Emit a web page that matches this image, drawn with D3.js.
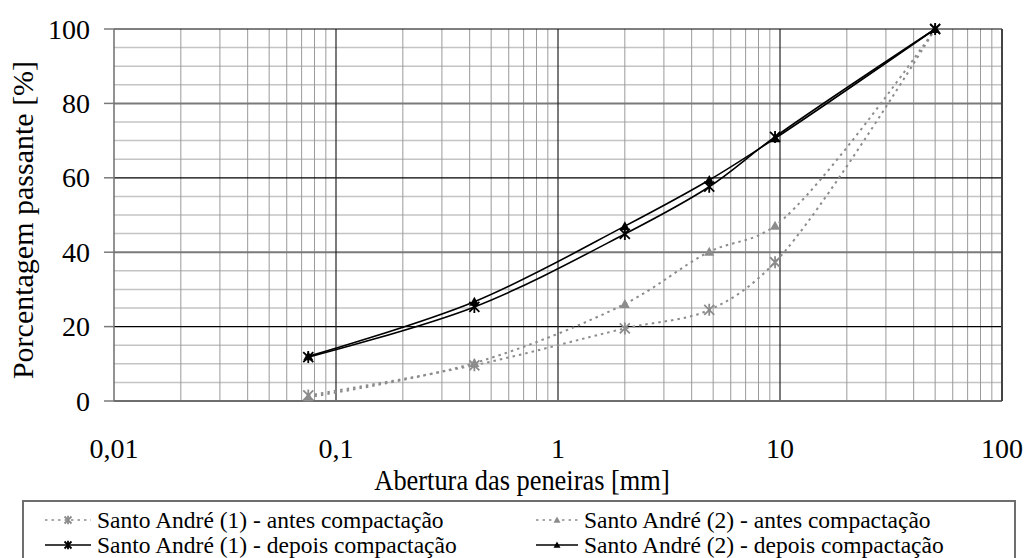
<!DOCTYPE html>
<meta charset="utf-8">
<script src="https://d3js.org/d3.v7.min.js"></script>
<body style="margin:0">
<div id="my_dataviz"></div>
<script>

// sieve openings (mm) and percent passing
var openings = [0.075, 0.42, 2.0, 4.8, 9.5, 50];
var antes1  = [1.5, 9.6, 19.5, 24.5, 37.3, 100];
var antes2  = [1.0, 10.2, 26.1, 40.1, 47.1, 100];
var depois1 = [11.8, 25.3, 44.9, 57.6, 71.0, 100];
var depois2 = [12.0, 26.7, 47.0, 59.4, 70.6, 100];

var seriesNames = [
  "Santo André (1) - antes compactação",
  "Santo André (2) - antes compactação",
  "Santo André (1) - depois compactação",
  "Santo André (2) - depois compactação"
];
var xTickValues = [0.01, 0.1, 1, 10, 100];
var xTickLabels = ["0,01", "0,1", "1", "10", "100"];
var yTickValues = [0, 20, 40, 60, 80, 100];

var W = 1029, H = 558;
var margin = {top: 29, right: 27, bottom: 157, left: 114},
    width = W - margin.left - margin.right,
    height = H - margin.top - margin.bottom;

var svgRoot = d3.select("#my_dataviz")
  .append("svg")
    .attr("width", W)
    .attr("height", H)
    .attr("font-family", "Liberation Serif");

var svg = svgRoot.append("g")
    .attr("transform", "translate(" + margin.left + "," + margin.top + ")");

var x = d3.scaleLog()
  .domain([0.01, 100])
  .range([0, width]);

var y = d3.scaleLinear()
  .domain([0, 100])
  .range([height, 0]);

// minor horizontal grid (every 5)
var yMinor = d3.range(5, 100, 5).filter(function(d){ return d % 20 != 0; });
svg.append("g").selectAll("line")
  .data(yMinor).enter().append("line")
    .attr("x1", 0).attr("x2", width)
    .attr("y1", function(d){ return y(d); })
    .attr("y2", function(d){ return y(d); })
    .style("stroke", "#c4c4c4")
    .style("stroke-width", 1.5);

// minor vertical grid (2..9 in each decade)
var xMinor = [];
[0.01, 0.1, 1, 10].forEach(function(dec){
  for (var k = 2; k <= 9; k++) xMinor.push(dec * k);
});
svg.append("g").selectAll("line")
  .data(xMinor).enter().append("line")
    .attr("x1", function(d){ return x(d); })
    .attr("x2", function(d){ return x(d); })
    .attr("y1", 0).attr("y2", height)
    .style("stroke", "#9a9a9a")
    .style("stroke-width", 1);

// major horizontal grid
svg.append("g").selectAll("line")
  .data([20, 40, 60, 80]).enter().append("line")
    .attr("x1", 0).attr("x2", width)
    .attr("y1", function(d){ return y(d); })
    .attr("y2", function(d){ return y(d); })
    .style("stroke", function(d){ return d % 40 == 0 ? "#7a7a7a" : "#000"; })
    .style("stroke-width", function(d){ return d % 40 == 0 ? 2 : 1.2; });

// major vertical grid
svg.append("g").selectAll("line")
  .data([0.1, 1, 10]).enter().append("line")
    .attr("x1", function(d){ return x(d); })
    .attr("x2", function(d){ return x(d); })
    .attr("y1", 0).attr("y2", height)
    .style("stroke", "#222")
    .style("stroke-width", 1.2);

// plot frame
svg.append("line").attr("x1", 0).attr("x2", width).attr("y1", 0).attr("y2", 0)
  .style("stroke", "#000").style("stroke-width", 1.2);
svg.append("line").attr("x1", 0).attr("x2", width).attr("y1", height).attr("y2", height)
  .style("stroke", "#6e6e6e").style("stroke-width", 2);
svg.append("line").attr("x1", 0).attr("x2", 0).attr("y1", 0).attr("y2", height)
  .style("stroke", "#6e6e6e").style("stroke-width", 1.5);
svg.append("line").attr("x1", width).attr("x2", width).attr("y1", 0).attr("y2", height)
  .style("stroke", "#444").style("stroke-width", 2);

// Y axis ticks and labels
svg.append("g").selectAll("line")
  .data(yTickValues).enter().append("line")
    .attr("x1", -10).attr("x2", 0)
    .attr("y1", function(d){ return y(d); })
    .attr("y2", function(d){ return y(d); })
    .style("stroke", "#7a7a7a").style("stroke-width", 1.5);
svg.append("g").selectAll("text")
  .data(yTickValues).enter().append("text")
    .attr("x", -24)
    .attr("y", function(d){ return y(d); })
    .attr("dy", "0.34em")
    .attr("text-anchor", "end")
    .attr("font-family", "Liberation Serif")
    .attr("font-size", 28)
    .text(function(d){ return d; });

// X axis labels
svg.append("g").selectAll("text")
  .data(xTickValues).enter().append("text")
    .attr("x", function(d){ return x(d); })
    .attr("y", height + 57)
    .attr("text-anchor", "middle")
    .attr("font-family", "Liberation Serif")
    .attr("font-size", 28)
    .text(function(d, i){ return xTickLabels[i]; });

// axis titles (the original type is a little condensed)
svgRoot.append("text")
  .attr("transform", "translate(522,490) scale(0.88,1)")
  .attr("text-anchor", "middle")
  .attr("font-family", "Liberation Serif")
  .attr("font-size", 30)
  .text("Abertura das peneiras [mm]");

svgRoot.append("text")
  .attr("transform", "translate(33,220) rotate(-90)")
  .attr("text-anchor", "middle")
  .attr("font-family", "Liberation Serif")
  .attr("font-size", 30)
  .text("Porcentagem passante [%]");

// markers
var star = function(g, s, color) {
  g.append("path")
    .attr("d", "M" + (-s) + "," + (-s) + "L" + s + "," + s +
               "M" + (-s) + "," + s + "L" + s + "," + (-s) +
               "M0," + (-s * 1.2) + "L0," + (s * 1.2))
    .style("stroke", color).style("stroke-width", 1.8).style("fill", "none");
};
var tri = function(g, s, color) {
  g.append("path")
    .attr("d", "M0," + (-s) + "L" + s + "," + (s * 0.8) + "L" + (-s) + "," + (s * 0.8) + "Z")
    .style("fill", color).style("stroke", "none");
};

var series = [
  {name: seriesNames[0], values: antes1,  color: "#8c8c8c", dash: "2.5,4", marker: star},
  {name: seriesNames[1], values: antes2,  color: "#8c8c8c", dash: "2.5,4", marker: tri},
  {name: seriesNames[2], values: depois1, color: "#000",    dash: null,    marker: star},
  {name: seriesNames[3], values: depois2, color: "#000",    dash: null,    marker: tri}
];

var line = d3.line()
  .x(function(d){ return x(d[0]); })
  .y(function(d){ return y(d[1]); })
  .curve(d3.curveCatmullRom.alpha(0.5));

series.forEach(function(s){
  var pts = openings.map(function(o, i){ return [o, s.values[i]]; });
  svg.append("path")
    .datum(pts)
    .attr("d", line)
    .style("fill", "none")
    .style("stroke", s.color)
    .style("stroke-width", s.dash ? 2 : 1.6)
    .style("stroke-dasharray", s.dash);
  pts.forEach(function(p){
    var g = svg.append("g").attr("transform", "translate(" + x(p[0]) + "," + y(p[1]) + ")");
    s.marker(g, 5, s.color);
  });
});

// legend
var legend = svgRoot.append("g");
legend.append("rect")
  .attr("x", 23).attr("y", 501)
  .attr("width", 992).attr("height", 70)
  .style("fill", "none").style("stroke", "#6e6e6e").style("stroke-width", 2);

var legPos = [
  {x0: 45, x1: 91, ly: 520, ty: 528}, {x0: 536, x1: 578, ly: 520, ty: 528},
  {x0: 45, x1: 91, ly: 545, ty: 553}, {x0: 536, x1: 578, ly: 545, ty: 553}
];
series.forEach(function(s, i){
  var p = legPos[i];
  legend.append("line")
    .attr("x1", p.x0).attr("x2", p.x1)
    .attr("y1", p.ly).attr("y2", p.ly)
    .style("stroke", s.color)
    .style("stroke-width", s.dash ? 1.5 : 1.6)
    .style("stroke-dasharray", s.dash);
  var g = legend.append("g").attr("transform", "translate(" + ((p.x0 + p.x1) / 2) + "," + p.ly + ")");
  s.marker(g, 3.5, s.color);
  legend.append("text")
    .attr("transform", "translate(" + (p.x1 + 6) + "," + p.ty + ") scale(0.98,1)")
    .attr("font-family", "Liberation Serif")
    .attr("font-size", 24)
    .text(s.name);
});

</script>
